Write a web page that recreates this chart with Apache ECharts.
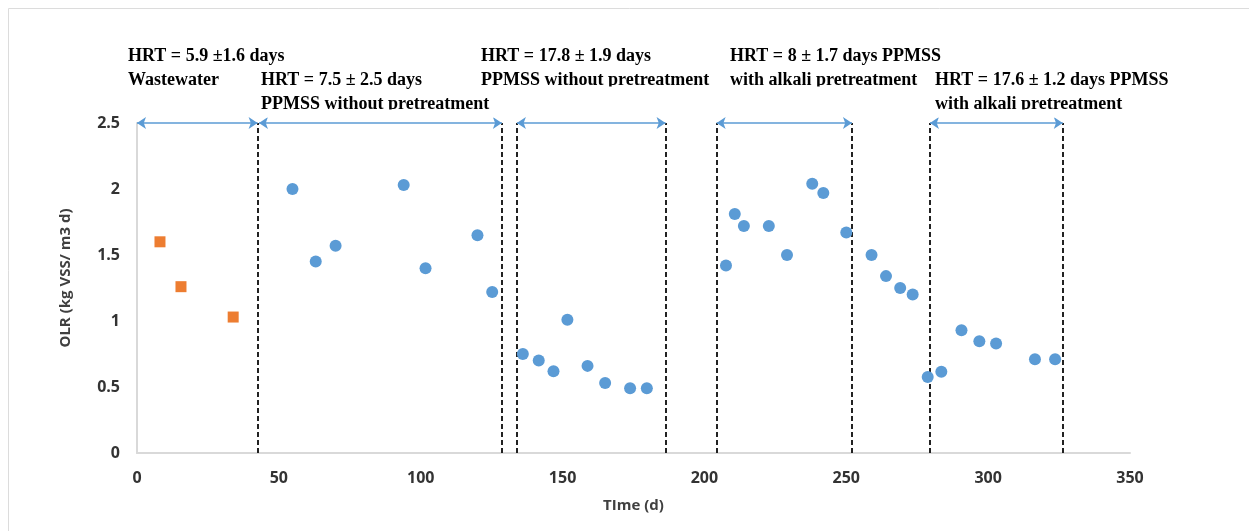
<!DOCTYPE html>
<html>
<head>
<meta charset="utf-8">
<title>OLR over time</title>
<script src="https://cdn.jsdelivr.net/npm/echarts@6/dist/echarts.min.js"></script>
</head>
<body style="margin:0; background:#fff;">
<div id="main" style="width:1249px; height:531px;"></div>
<script>
// wastewater phase (orange squares)
var wwDays = [8.1, 15.5, 33.9];
var wwOlr = [1.6, 1.26, 1.03];

// PPMSS phases (blue circles)
var ppmssDays = [54.8, 63.0, 70.0, 94.0, 101.7, 120.0, 125.2,
    136.0, 141.6, 146.8, 151.7, 158.8, 165.0, 173.8, 179.7,
    207.6, 210.7, 213.9, 222.7, 229.1, 238.0, 241.9, 250.0,
    258.9, 264.0, 269.0, 273.4, 278.7,
    283.5, 290.6, 296.9, 302.8, 316.5, 323.6];
var ppmssOlr = [2.0, 1.45, 1.57, 2.03, 1.40, 1.65, 1.22,
    0.75, 0.70, 0.62, 1.01, 0.66, 0.53, 0.49, 0.49,
    1.42, 1.81, 1.72, 1.72, 1.50, 2.04, 1.97, 1.67,
    1.50, 1.34, 1.25, 1.20, 0.575,
    0.615, 0.93, 0.846, 0.83, 0.71, 0.71];

// phase limits (days)
var phaseBounds = [42.5, 128.6, 133.9, 186.3, 204.3, 252, 279.5, 326.3];
var phaseArrows = [[0, 42.5], [43, 128.6], [133.9, 186.3], [204.3, 252], [279.5, 326.3]];

// annotation texts
var phaseTexts = [
    'HRT = 5.9 \u00b11.6 days', 'Wastewater',
    'HRT = 7.5 \u00b1 2.5 days', 'PPMSS without pretreatment',
    'HRT = 17.8 \u00b1 1.9 days', 'PPMSS without pretreatment',
    'HRT = 8 \u00b1 1.7 days PPMSS', 'with alkali pretreatment',
    'HRT = 17.6 \u00b1 1.2 days PPMSS', 'with alkali pretreatment'
];
// where each text sits (left px, baseline row)
var textLayout = [[128, 0], [128, 1], [261, 1], [261, 2], [481, 0], [481, 1], [730, 0], [730, 1], [935, 1], [935, 2]];
var rowBaseline = [62, 86, 110];

var chart = echarts.init(document.getElementById('main'));

var boundLines = phaseBounds.map(function (d) {
    return [{ coord: [d, 0] }, { coord: [d, 2.5] }];
});
var arrowLines = phaseArrows.map(function (a) {
    return [{ coord: [a[0], 2.5] }, { coord: [a[1], 2.5] }];
});

var graphics = [{
    type: 'rect',
    shape: { x: 8.5, y: 8.5, width: 1400, height: 700 },
    style: { fill: null, stroke: '#dcdcdc', lineWidth: 1 },
    silent: true
}];
phaseTexts.forEach(function (t, i) {
    graphics.push({
        type: 'text',
        x: textLayout[i][0],
        y: rowBaseline[textLayout[i][1]] - 6,
        style: {
            text: t,
            font: 'bold 18px "Liberation Serif", "Times New Roman", serif',
            fill: '#000',
            textAlign: 'left',
            textVerticalAlign: 'middle'
        },
        z: 10
    });
});
// the text boxes in the original cut off the last line
graphics.push({ type: 'rect', shape: { x: 478, y: 86.5, width: 450, height: 7 }, style: { fill: '#fff' }, z: 20, silent: true });
graphics.push({ type: 'rect', shape: { x: 255, y: 109.5, width: 250, height: 8 }, style: { fill: '#fff' }, z: 20, silent: true });
graphics.push({ type: 'rect', shape: { x: 930, y: 109.5, width: 260, height: 8 }, style: { fill: '#fff' }, z: 20, silent: true });
graphics.push({
    type: 'text',
    x: 66, y: 278,
    rotation: Math.PI / 2,
    style: {
        text: 'OLR (kg VSS/ m3 d)',
        font: 'bold 15px "Open Sans", sans-serif',
        fill: '#404040',
        textAlign: 'center',
        textVerticalAlign: 'middle'
    }
});

var option = {
    animation: false,
    backgroundColor: '#fff',
    grid: { left: 137, right: 119, top: 123, bottom: 78 },
    xAxis: {
        type: 'value',
        min: 0, max: 350, interval: 50,
        name: 'TIme (d)',
        nameLocation: 'middle',
        nameGap: 45,
        nameTextStyle: { fontFamily: 'Open Sans', fontWeight: 'bold', fontSize: 15, color: '#404040' },
        axisLine: { lineStyle: { color: '#d9d9d9', width: 2 } },
        axisTick: { show: false },
        splitLine: { show: false },
        axisLabel: { margin: 17, fontFamily: 'Open Sans', fontWeight: 'bold', fontSize: 16, color: '#333' }
    },
    yAxis: {
        type: 'value',
        min: 0, max: 2.5, interval: 0.5,
        axisLine: { show: true, lineStyle: { color: '#d9d9d9', width: 2 } },
        axisTick: { show: false },
        splitLine: { show: false },
        axisLabel: { margin: 17, fontFamily: 'Open Sans', fontWeight: 'bold', fontSize: 16, color: '#333' }
    },
    graphic: graphics,
    series: [
        {
            name: 'Wastewater',
            type: 'scatter',
            symbol: 'rect',
            symbolSize: 11,
            itemStyle: { color: '#ED7D31', opacity: 1 },
            data: wwDays.map(function (d, i) { return [d, wwOlr[i]]; }),
            z: 5
        },
        {
            name: 'PPMSS',
            type: 'scatter',
            symbol: 'circle',
            symbolSize: 12,
            itemStyle: { color: '#5B9BD5', opacity: 1 },
            data: ppmssDays.map(function (d, i) { return [d, ppmssOlr[i]]; }),
            z: 5,
            markLine: {
                silent: true,
                symbol: ['none', 'none'],
                label: { show: false },
                lineStyle: { color: '#222', width: 2, type: [5, 3], opacity: 1 },
                data: boundLines
            }
        },
        {
            name: 'phases',
            type: 'scatter',
            data: [],
            markLine: {
                silent: true,
                symbol: ['arrow', 'arrow'],
                symbolSize: [9, 9],
                label: { show: false },
                lineStyle: { color: '#5B9BD5', width: 1.5, type: 'solid', opacity: 1 },
                data: arrowLines
            }
        }
    ]
};

chart.setOption(option);
</script>
</body>
</html>
